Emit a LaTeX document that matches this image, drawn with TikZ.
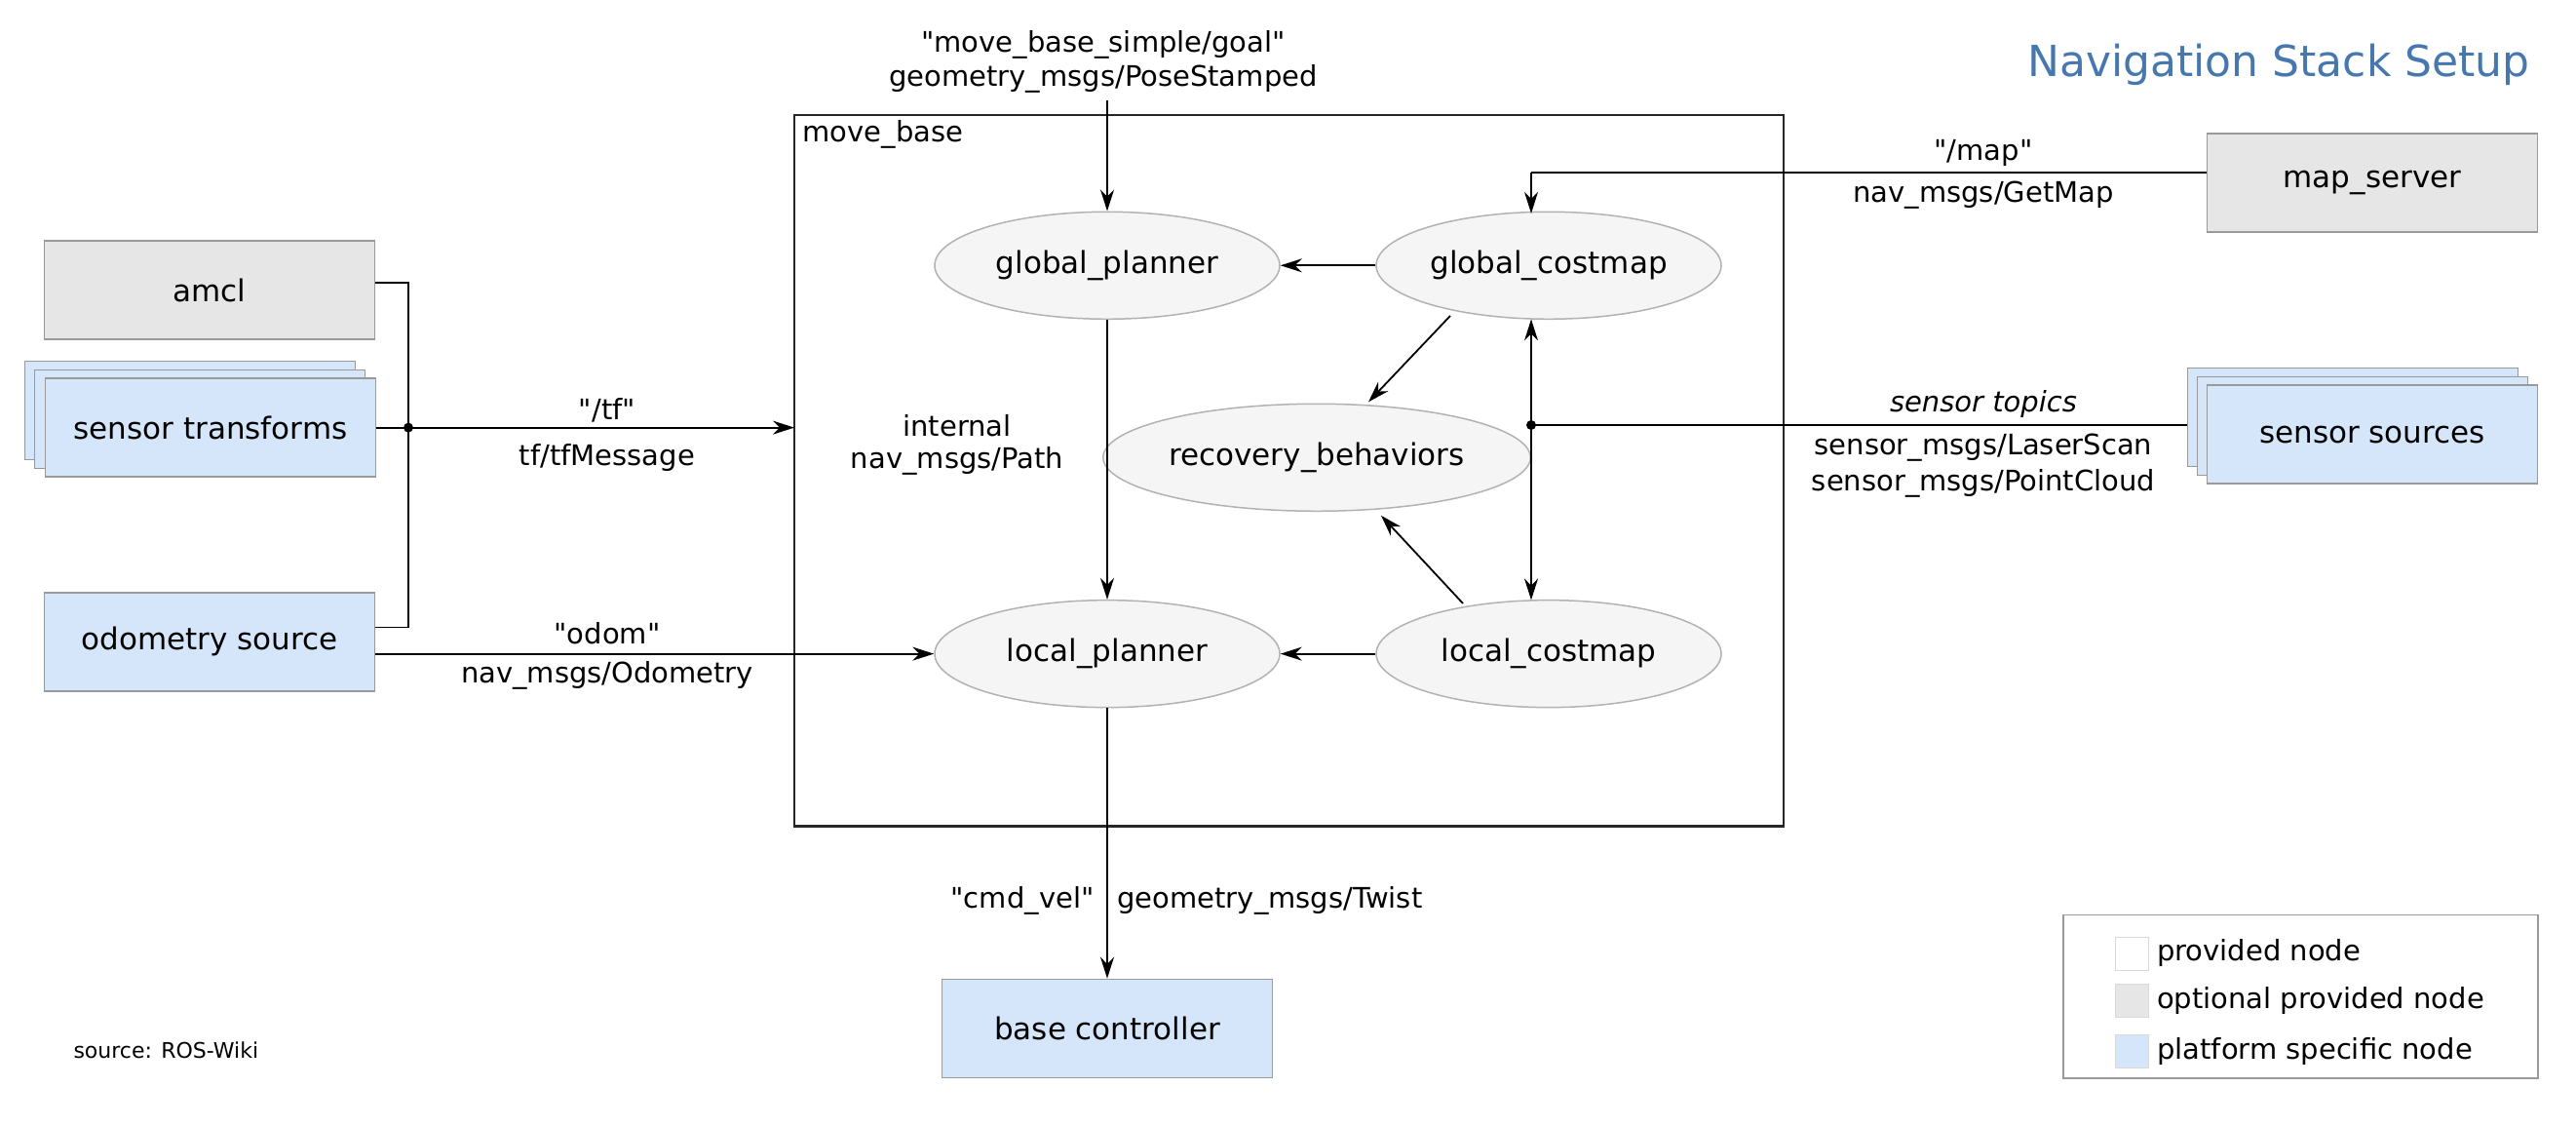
\documentclass[tikz,border=0pt]{standalone}
\usepackage{fontspec}
\setmainfont{DejaVu Sans}[Ligatures=TeXOff]
\usetikzlibrary{shapes.geometric,arrows.meta}
\definecolor{blu}{RGB}{214,230,250}
\definecolor{gry}{RGB}{230,230,230}
\definecolor{ttl}{RGB}{70,120,175}
\newcommand\qq{"}
\begin{document}
\begin{tikzpicture}[x=1pt,y=-0.8755pt,
  txt/.style={font=\fontsize{29}{33}\selectfont},
  box/.style={draw=black!40,line width=1.5pt,minimum width=339pt,minimum height=101pt,font=\fontsize{31}{35}\selectfont},
  ell/.style={ellipse,draw=black!30,fill=black!4,line width=1.5pt,minimum width=354pt,minimum height=110pt,font=\fontsize{31}{35}\selectfont},
  arr/.style={line width=1.8pt,-{Stealth[length=22pt,width=14pt]}},
  ln/.style={line width=1.8pt}]
\useasboundingbox (0,0) rectangle (2643,1319);
\node[ttl,font=\fontsize{44}{50}\selectfont,anchor=east] (title) at (2599,76) {Navigation Stack Setup};
% left nodes
\node[box,fill=gry] (amcl) at (215,340) {amcl};
\node[box,fill=blu] (st2) at (195,481) {};
\node[box,fill=blu] (st1) at (205,491) {};
\node[box,fill=blu] (st) at (216,501) {sensor transforms};
\node[box,fill=blu] (odo) at (215,752) {odometry source};
\node[box,fill=gry] (map) at (2434,214) {map\_server};
\node[box,fill=blu] (ss2) at (2414,489) {};
\node[box,fill=blu] (ss1) at (2424,499) {};
\node[box,fill=blu] (ss) at (2434,509) {sensor sources};
\node[box,fill=blu] (bc) at (1136,1205) {base controller};
% move_base
\draw[line width=2.5pt,black!85] (815,135) rectangle (1830,968);
\node[anchor=north west,txt] (mb) at (820,137) {move\_base};
\node[ell] (gp) at (1136,311) {global\_planner};
\node[ell] (lp) at (1136,766) {local\_planner};
\node[ell] (rb) at (1351,536) {recovery\_behaviors};
\node[ell] (gc) at (1589,311) {global\_costmap};
\node[ell] (lc) at (1589,766) {local\_costmap};
% junction left
\coordinate (j) at (419,501);
\coordinate (ja) at (419,331);
\coordinate (jo) at (419,735);
\coordinate (mbl) at (815,501);
\draw[ln] (amcl.east|-ja) -- (ja) -- (jo) -- (odo.east|-jo);
\draw[ln] (st.east) -- (j);
\fill (j) circle (5pt);
\draw[arr] (j) -- (mbl);
\node[txt] (tf1) at (623,481) {\qq/tf\qq};
\node[txt] (tf2) at (623,536) {tf/tfMessage};
\draw[arr] (odo.east|-lp) -- (lp.west);
\node[txt] (od1) at (623,742) {\qq odom\qq};
\node[txt] (od2) at (623,791) {nav\_msgs/Odometry};
% goal
\coordinate (gtop) at (1136,118);
\node[txt] (g1) at (1132,53) {\qq move\_base\_simple/goal\qq};
\node[txt] (g2) at (1132,92) {geometry\_msgs/PoseStamped};
\draw[arr] (gtop) -- (gp.north);
\draw[arr] (gp.south) -- (lp.north);
\node[txt] (in1) at (982,499) {internal};
\node[txt] (in2) at (982,540) {nav\_msgs/Path};
\draw[arr] (gc.west) -- (gp.east);
\draw[arr] (lc.west) -- (lp.east);
\draw[arr] (1488,370) -- (1404,471);
\draw[arr] (1501,707) -- (1417,604);
% map
\coordinate (mc) at (1571,202);
\draw[ln] (map.west|-mc) -- (mc);
\draw[arr] (mc) -- (1571,250);
\node[txt] (m1) at (2035,179) {\qq/map\qq};
\node[txt] (m2) at (2035,229) {nav\_msgs/GetMap};
% sensors
\coordinate (sj) at (1571,498);
\draw[ln] (ss2.west|-sj) -- (sj);
\fill (sj) circle (5pt);
\draw[arr] (sj) -- (1571,374);
\draw[arr] (sj) -- (1571,703);
\node[txt,font=\fontsize{29}{33}\selectfont\itshape] (s0) at (2035,473) {sensor topics};
\node[txt] (s1) at (2035,524) {sensor\_msgs/LaserScan};
\node[txt] (s2) at (2035,566) {sensor\_msgs/PointCloud};
% cmd_vel
\draw[arr] (lp.south) -- (bc.north);
\node[txt,anchor=east] (c1) at (1126,1055) {\qq cmd\_vel\qq};
\node[txt,anchor=west] (c2) at (1143,1055) {geometry\_msgs/Twist};
\node[anchor=west,font=\fontsize{22}{26}\selectfont] (src) at (72,1231) {source: ROS-Wiki};
% legend
\draw[black!40,line width=1.5pt] (2117,1072) rectangle (2604,1263);
\node[draw=black!15,fill=white,minimum size=34pt,inner sep=0] (l1) at (2187,1117) {};
\node[draw=black!15,fill=gry,minimum size=34pt,inner sep=0] (l2) at (2187,1172) {};
\node[draw=black!15,fill=blu,minimum size=34pt,inner sep=0] (l3) at (2187,1232) {};
\node[txt,anchor=west,inner sep=0] (t1) at (2213,1117) {provided node};
\node[txt,anchor=west,inner sep=0] (t2) at (2213,1172) {optional provided node};
\node[txt,anchor=west,inner sep=0] (t3) at (2213,1232) {platform specific node};
\end{tikzpicture}
\end{document}
